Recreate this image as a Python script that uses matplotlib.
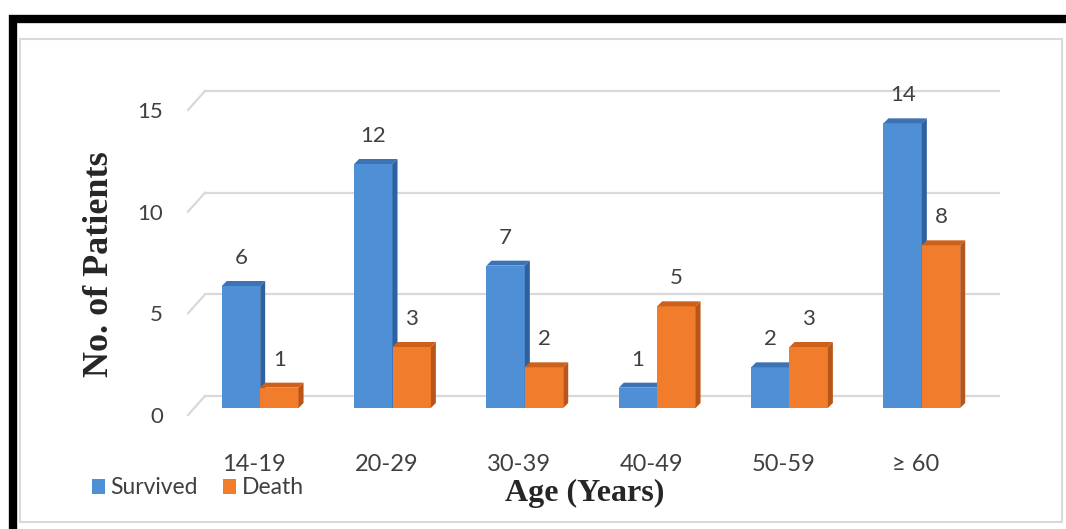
import numpy as np
import matplotlib.pyplot as plt
from matplotlib.patches import Polygon, Rectangle, Patch

# patients by age group
age_groups = ["14-19", "20-29", "30-39", "40-49", "50-59", "\u2265 60"]
survived = [6, 12, 7, 1, 2, 14]
death = [1, 3, 2, 5, 3, 8]
y_ticks = [0, 5, 10, 15]

W, H = 1066, 529
fig = plt.figure(figsize=(W / 100, H / 100), dpi=100)

sans = ["Lato", "DejaVu Sans"]
serif = "Liberation Serif"
txt = "#404040"
grid_c = "#D9D9D9"

# front plane of the 3-d box, in pixels
ax_l, ax_r, ax_b, ax_t = 188, 982, 415, 110
ax = fig.add_axes([ax_l / W, (H - ax_b) / H, (ax_r - ax_l) / W, (ax_b - ax_t) / H])
ax.set_xlim(-0.5, 5.5)
ax.set_ylim(0, 15)
ax.patch.set_alpha(0)
for s in ax.spines.values():
    s.set_visible(False)

# pixel -> data unit helpers
px_x = 6.0 / (ax_r - ax_l)
px_y = 15.0 / (ax_b - ax_t)

# back wall offset and bar plane offset
bk_dx, bk_dy = 17 * px_x, 19 * px_y
bp_dx, bp_dy = 6 * px_x, 7 * px_y
# bar thickness
d_dx, d_dy = 5 * px_x, 5 * px_y

# gridlines on back wall plus the diagonals on the side wall
for t in y_ticks:
    ax.plot([-0.5 + bk_dx, 5.5 + bk_dx], [t + bk_dy, t + bk_dy], color=grid_c,
            lw=1.6, clip_on=False, zorder=1)
    ax.plot([-0.5, -0.5 + bk_dx], [t, t + bk_dy], color=grid_c, lw=1.6,
            clip_on=False, zorder=1)

x = np.arange(len(age_groups))
bw = 0.29


def bar3d(xc, vals, front, top, side):
    bars = ax.bar(xc, vals, width=bw, bottom=bp_dy, color=front, zorder=3,
                  clip_on=False)
    for b, v in zip(bars, vals):
        x0 = b.get_x()
        x1 = x0 + b.get_width()
        y0 = b.get_y()
        y1 = y0 + v
        ax.add_patch(Polygon([(x0, y1), (x1, y1), (x1 + d_dx, y1 + d_dy),
                              (x0 + d_dx, y1 + d_dy)], closed=True,
                             facecolor=top, edgecolor="none", zorder=3,
                             clip_on=False))
        ax.add_patch(Polygon([(x1, y0), (x1, y1), (x1 + d_dx, y1 + d_dy),
                              (x1 + d_dx, y0 + d_dy)], closed=True,
                             facecolor=side, edgecolor="none", zorder=3,
                             clip_on=False))
        ax.annotate(str(v), (x0 + bw / 2, y1),
                    xytext=(0, 28), textcoords="offset pixels", ha="center",
                    va="center", fontsize=16, color=txt, family=sans,
                    annotation_clip=False)


bar3d(x + bp_dx - bw / 2, survived, "#4E8FD6", "#3C73B4", "#2F619E")
bar3d(x + bp_dx + bw / 2, death, "#F07C2C", "#CC611C", "#B85518")

ax.set_yticks(y_ticks)
ax.set_yticklabels([str(t) for t in y_ticks], family=sans, fontsize=16, color=txt)
ax.set_xticks(x)
ax.set_xticklabels(age_groups, family=sans, fontsize=17, color=txt)
ax.tick_params(axis="y", length=0, pad=18)
ax.tick_params(axis="x", length=0, pad=28)

fig.text(100 / W, 1 - 264 / H, "No. of Patients", rotation=90, ha="center",
         va="center", fontsize=26, fontweight="bold", family=serif, color="#262626")
fig.text(585 / W, 1 - 493 / H, "Age (Years)", ha="center", va="center",
         fontsize=23, fontweight="bold", family=serif, color="#262626")

handles = [Patch(facecolor="#4E8FD6"), Patch(facecolor="#F07C2C")]
fig.legend(handles, ["Survived", "Death"], loc="center left",
           bbox_to_anchor=(92 / W, (H - 488) / H), ncol=2, frameon=False,
           handlelength=0.55, handleheight=0.6, handletextpad=0.25,
           columnspacing=1.1, borderpad=0, borderaxespad=0,
           prop={"family": sans, "size": 16.5}, labelcolor=txt)

# light inner frame and heavy black outer border
fig.add_artist(Rectangle((20 / W, (H - 522) / H), (1062 - 20) / W, (522 - 39) / H,
                         transform=fig.transFigure, facecolor="none",
                         edgecolor=grid_c, lw=1.5))
fig.add_artist(Rectangle((12.5 / W, (H - 532) / H), (1090 - 12.5) / W, (532 - 18.5) / H,
                         transform=fig.transFigure, facecolor="none",
                         edgecolor="black", lw=6))

fig.savefig("out.png", dpi=100)
